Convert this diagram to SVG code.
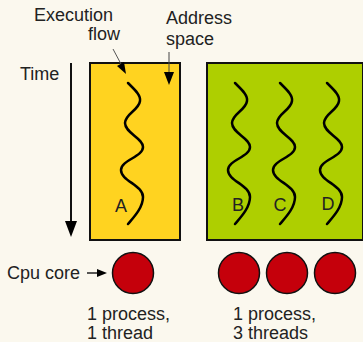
<svg xmlns="http://www.w3.org/2000/svg" width="363" height="342" viewBox="0 0 363 342">
<style>
text{font-family:"Liberation Sans",Arial,sans-serif;font-size:18px;fill:#222}
.box{stroke:#111;stroke-width:2}
.wave{fill:none;stroke:#000;stroke-width:2.5;stroke-linecap:round}
.core{fill:#c5000b;stroke:#111;stroke-width:1.5}
.lbl{text-anchor:middle}
</style>
<defs>
<path id="w" d="M128,83 C134,89 141,95 140,101 C139,110 125,114 125,123 C125,133 143,138 143,147 C143,157 121,160 121,170 C121,181 143,185 143,197 C143,208 133,218 128,224"/>
</defs>
<rect width="363" height="342" fill="#fbf8ee"/>
<g id="process1">
<rect class="box" x="90" y="63" width="90" height="177" fill="#ffd320"/>
<use href="#w" class="wave"/>
<text class="lbl" x="121" y="212">A</text>
</g>
<g id="process3">
<rect class="box" x="207" y="63" width="156" height="177" fill="#aecf00"/>
<use href="#w" class="wave" transform="translate(107,0)"/>
<use href="#w" class="wave" transform="translate(152,0)"/>
<use href="#w" class="wave" transform="translate(199,0)"/>
<text class="lbl" x="238" y="211">B</text>
<text class="lbl" x="280" y="211">C</text>
<text class="lbl" x="328" y="210">D</text>
</g>
<g id="cores">
<circle class="core" cx="133" cy="273" r="20.5"/>
<circle class="core" cx="239" cy="273" r="20.5"/>
<circle class="core" cx="287" cy="273" r="20.5"/>
<circle class="core" cx="335" cy="273" r="20.5"/>
</g>
<g id="labels">
<text x="34" y="21">Execution</text>
<text x="88" y="40">flow</text>
<text x="166" y="24">Address</text>
<text x="166" y="45">space</text>
<text x="20" y="80">Time</text>
<text x="7" y="279">Cpu core</text>
<text x="87" y="320">1 process,</text>
<text x="87" y="339">1 thread</text>
<text x="233" y="320">1 process,</text>
<text x="233" y="339">3 threads</text>
</g>
<g id="connectors">
<line x1="71" y1="63" x2="71" y2="222" stroke="#111" stroke-width="2"/>
<polygon points="65,221 77,221 71,237" fill="#000"/>
<line x1="113" y1="49" x2="121" y2="64" stroke="#555" stroke-width="1"/>
<polygon points="117,66 124,62 126,74" fill="#000"/>
<line x1="169" y1="52" x2="169" y2="73" stroke="#444" stroke-width="1"/>
<polygon points="164,72 174,72 169,85" fill="#000"/>
<line x1="87" y1="273" x2="98" y2="273" stroke="#222" stroke-width="1.5"/>
<polygon points="97,269 107,273 97,277" fill="#000"/>
</g>
</svg>
